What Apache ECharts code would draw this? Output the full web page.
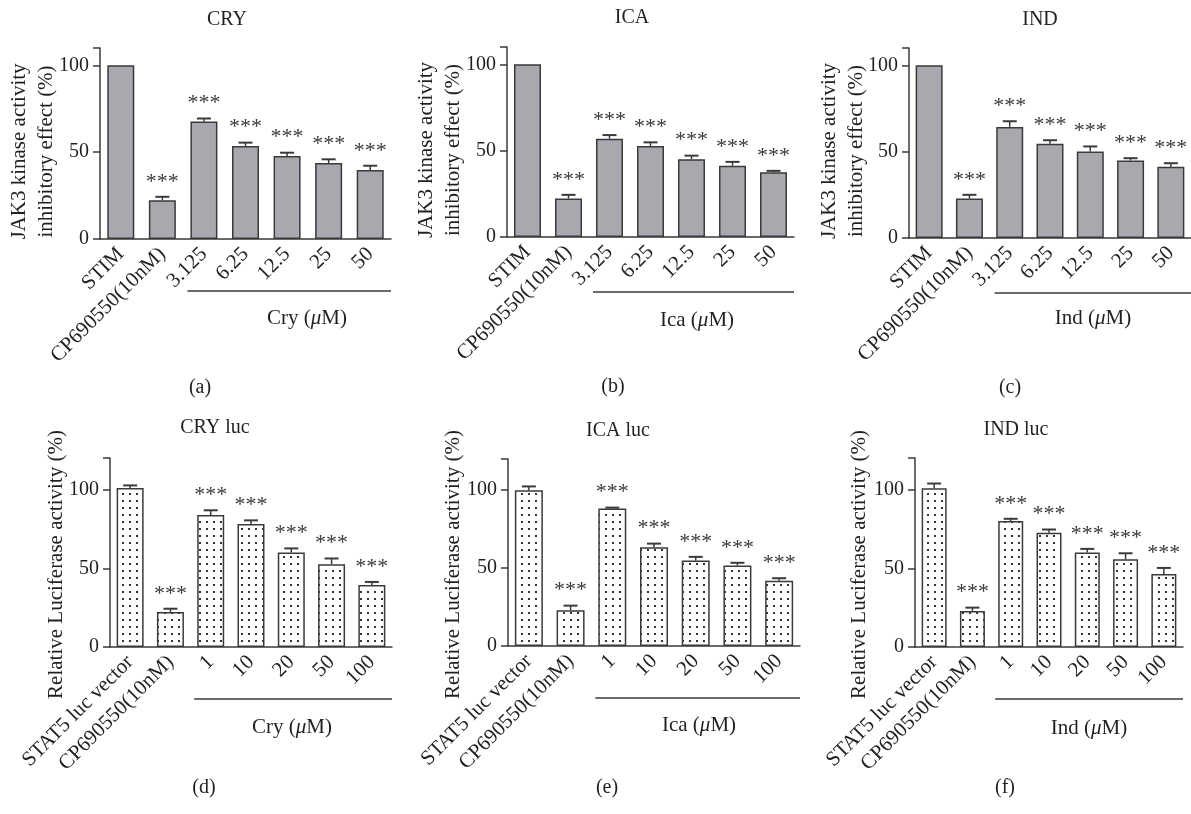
<!DOCTYPE html>
<html>
<head>
<meta charset="utf-8">
<script src="https://cdn.jsdelivr.net/npm/echarts@6/dist/echarts.min.js"></script>
<style>html,body{margin:0;padding:0;background:#fff}#c{width:1191px;height:814px}</style>
</head>
<body>
<div id="c"></div>
<script>
// ---------- data ----------
const catsTop = ['STIM', 'CP690550(10nM)', '3.125', '6.25', '12.5', '25', '50'];
const catsBottom = ['STAT5 luc vector', 'CP690550(10nM)', '1', '10', '20', '50', '100'];
const sig = ['', '***', '***', '***', '***', '***', '***'];

const cryJak = [100, 22.3, 67.6, 53.6, 47.8, 43.7, 39.7];
const cryJakErr = [0, 2.0, 1.8, 1.9, 1.9, 2.2, 2.5];
const icaJak = [100, 22.3, 56.9, 52.7, 45.0, 41.2, 37.5];
const icaJakErr = [0, 2.1, 2.1, 2.1, 2.1, 2.3, 0.8];
const indJak = [100, 22.9, 64.3, 54.5, 50.1, 44.9, 41.2];
const indJakErr = [0, 2.1, 3.3, 2.1, 2.9, 1.3, 2.1];

const cryLuc = [100.9, 22.3, 83.8, 78.1, 60.0, 52.6, 39.4];
const cryLucErr = [1.7, 2.0, 3.0, 2.3, 2.6, 3.6, 1.9];
const icaLuc = [100, 22.9, 88.2, 63.4, 54.8, 51.6, 41.8];
const icaLucErr = [2.4, 3.0, 0.6, 2.3, 2.4, 1.8, 1.7];
const indLuc = [100.8, 22.9, 80.0, 72.5, 60.0, 55.7, 46.4];
const indLucErr = [3.0, 2.1, 1.4, 2.1, 2.3, 3.8, 3.8];

const yTicksTop = [0, 50, 100];
const yTicksBottom = [0, 50, 100];

const titles = ['CRY', 'ICA', 'IND', 'CRY luc', 'ICA luc', 'IND luc'];
const tags = ['(a)', '(b)', '(c)', '(d)', '(e)', '(f)'];
const groups = ['Cry', 'Ica', 'Ind', 'Cry', 'Ica', 'Ind'];
const yNameTop = 'JAK3 kinase activity\ninhibitory effect (%)';
const yNameBottom = 'Relative Luciferase activity (%)';

// ---------- layout ----------
const FONT = "'Liberation Serif', 'DejaVu Serif', serif";
const TXT = '#231f20';
const FS = 21;
const panels = [
  {vals: cryJak, errs: cryJakErr, cats: catsTop, left: 100, top: 48, width: 291, height: 191, max: 110, bw: 27, pattern: false,
   title: [227, 20], tag: [200, 388], group: [307, 318], bracketY: 291, nameGap: 40},
  {vals: icaJak, errs: icaJakErr, cats: catsTop, left: 507, top: 47, width: 287, height: 190, max: 110, bw: 27, pattern: false,
   title: [632, 18], tag: [613, 387], group: [697, 320], bracketY: 292, nameGap: 40},
  {vals: indJak, errs: indJakErr, cats: catsTop, left: 909, top: 48, width: 286, height: 190, max: 110, bw: 27, pattern: false,
   title: [1040, 20], tag: [1010, 388], group: [1093, 318], bracketY: 293, nameGap: 39},
  {vals: cryLuc, errs: cryLucErr, cats: catsBottom, left: 110, top: 458, width: 282, height: 189, max: 120, bw: 27, pattern: true,
   title: [215, 428], tag: [204, 788], group: [292, 727], bracketY: 699, nameGap: 40},
  {vals: icaLuc, errs: icaLucErr, cats: catsBottom, left: 508, top: 459, width: 292, height: 187, max: 120, bw: 28, pattern: true,
   title: [618, 431], tag: [607, 788], group: [699, 725], bracketY: 698, nameGap: 41},
  {vals: indLuc, errs: indLucErr, cats: catsBottom, left: 915, top: 458, width: 268, height: 189, max: 120, bw: 25, pattern: true,
   title: [1016, 430], tag: [1005, 788], group: [1089, 728], bracketY: 699, nameGap: 42}
];

// dotted pattern
const pc = document.createElement('canvas');
pc.width = 7; pc.height = 7;
const pctx = pc.getContext('2d');
pctx.fillStyle = '#fff'; pctx.fillRect(0, 0, 7, 7);
pctx.fillStyle = '#333'; pctx.fillRect(3, 3, 2, 2);

const grid = [], xAxis = [], yAxis = [], series = [], graphic = [];
panels.forEach((p, k) => {
  grid.push({left: p.left, top: p.top, width: p.width, height: p.height, containLabel: false});
  xAxis.push({
    type: 'category', gridIndex: k, data: p.cats,
    axisLine: {lineStyle: {color: '#3a3a3a', width: 1.5}},
    axisTick: {alignWithLabel: true, interval: 0, length: 7, lineStyle: {color: '#3a3a3a', width: 1.5}},
    axisLabel: {interval: 0, rotate: 45, margin: 12, color: TXT, fontFamily: FONT, fontSize: FS}
  });
  const top = k < 3;
  yAxis.push({
    type: 'value', gridIndex: k, min: 0, max: p.max, interval: 50,
    name: top ? yNameTop : yNameBottom, nameLocation: 'middle', nameGap: p.nameGap, nameMoveOverlap: false,
    nameTextStyle: {color: TXT, fontFamily: FONT, fontSize: FS, lineHeight: 27,
      padding: top ? [0, 16, 0, 0] : [0, 24, 0, 0]},
    axisLine: {show: true, lineStyle: {color: '#3a3a3a', width: 1.5}},
    axisTick: {show: true, length: 7, lineStyle: {color: '#3a3a3a', width: 1.5}},
    axisLabel: {margin: 11, color: TXT, fontFamily: FONT, fontSize: 20,
      formatter: v => ((top ? yTicksTop : yTicksBottom).includes(v) ? String(v) : '')},
    splitLine: {show: false}
  });
  series.push({
    type: 'bar', xAxisIndex: k, yAxisIndex: k, data: p.vals, barWidth: p.bw,
    itemStyle: {color: p.pattern ? {image: pc, repeat: 'repeat'} : '#a8a9ae', borderColor: '#3a3a3a', borderWidth: 1.5},
    emphasis: {disabled: true}, silent: true
  });
  series.push({
    type: 'custom', xAxisIndex: k, yAxisIndex: k, clip: false, silent: true,
    data: p.vals.map((v, i) => [i, v, p.errs[i]]),
    renderItem: (params, api) => {
      const i = api.value(0), v = api.value(1), e = api.value(2);
      const b = api.coord([i, v]);
      const t = api.coord([i, v + e]);
      const ch = [];
      if (e > 0) {
        ch.push({type: 'line', shape: {x1: b[0], y1: b[1], x2: t[0], y2: t[1]}, style: {stroke: '#3a3a3a', lineWidth: 1.5}});
        ch.push({type: 'line', shape: {x1: t[0] - 7, y1: t[1], x2: t[0] + 7, y2: t[1]}, style: {stroke: '#3a3a3a', lineWidth: 2}});
      }
      const s = sig[params.dataIndex];
      if (s) {
        ch.push({type: 'text', style: {text: s, x: t[0], y: t[1] - 4,
          align: 'center', verticalAlign: 'bottom', textAlign: 'center', textVerticalAlign: 'bottom',
          font: "22px 'Liberation Serif', serif", fill: '#3a3a3a'}});
      }
      return {type: 'group', children: ch};
    }
  });
  const pitch = p.width / 7;
  graphic.push({type: 'line', silent: true,
    shape: {x1: p.left + 2 * pitch + (pitch - p.bw) / 2 - 3, y1: p.bracketY, x2: p.left + p.width, y2: p.bracketY},
    style: {stroke: '#3a3a3a', lineWidth: 1.5}});
  graphic.push({type: 'text', silent: true, x: p.group[0], y: p.group[1],
    style: {text: groups[k] + ' ({i|μ}M)', align: 'center', verticalAlign: 'middle', font: FS + 'px ' + FONT, fill: TXT,
      rich: {i: {fontStyle: 'italic', fontFamily: FONT, fontSize: FS, fill: TXT}}}});
  graphic.push({type: 'text', silent: true, x: p.title[0], y: p.title[1],
    style: {text: titles[k], align: 'center', verticalAlign: 'middle', font: '20px ' + FONT, fill: TXT}});
  graphic.push({type: 'text', silent: true, x: p.tag[0], y: p.tag[1],
    style: {text: tags[k], align: 'center', verticalAlign: 'middle', font: '20px ' + FONT, fill: TXT}});
});

const chart = echarts.init(document.getElementById('c'), null, {renderer: 'canvas'});
chart.setOption({animation: false, backgroundColor: '#fff', grid, xAxis, yAxis, series, graphic});
</script>
</body>
</html>
